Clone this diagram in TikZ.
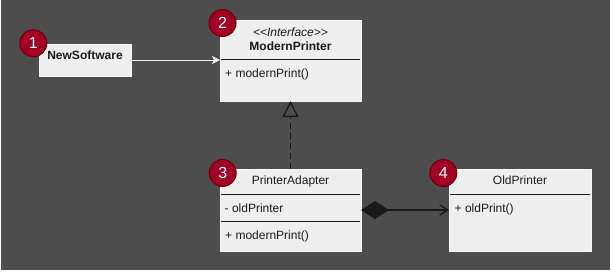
\documentclass[tikz,border=0pt]{standalone}
\usepackage{fontspec}
\setmainfont{Liberation Sans}
\usetikzlibrary{arrows.meta,calc}
\definecolor{bg}{HTML}{4D4D4D}
\definecolor{boxfill}{HTML}{EEEEEE}
\definecolor{boxline}{HTML}{F7F7F7}
\definecolor{ink}{HTML}{1A1A1A}
\definecolor{badgefill}{HTML}{A20025}
\definecolor{badgeline}{HTML}{6F0000}
\definecolor{lightline}{HTML}{F0F0F0}
\begin{document}
\begin{tikzpicture}[x=1pt,y=-1pt,
  umlbox/.style={draw=boxline, fill=boxfill, line width=1pt, inner sep=0pt, outer sep=0pt, anchor=north west},
  divider/.style={draw=ink, line width=1pt},
  lbl/.style={text=ink, inner sep=0pt, font=\fontsize{12pt}{14pt}\selectfont},
  badge/.style={circle, fill=badgefill, draw=badgeline, line width=1pt, minimum size=27pt, inner sep=0pt, text=white, font=\fontsize{16pt}{18pt}\selectfont},
  assoc/.style={draw=lightline, line width=1pt, -{Stealth[length=8pt,width=8pt,inset=2pt]}},
  realize/.style={draw=ink, line width=1.6pt, dash pattern=on 6pt off 4pt, -{Triangle[open,length=16pt,width=16pt,line width=1.4pt]}},
  compose/.style={draw=ink, line width=1.4pt, {Diamond[length=28pt,width=18pt]}-{Straight Barb[length=8pt,width=10pt,line width=1.4pt]}}
]
\useasboundingbox (0,0) rectangle (611,271);
\fill[white] (0,0) rectangle (611,271);
\fill[bg] (1,0) rectangle (610,270);

% boxes
\node[umlbox, minimum width=92pt, minimum height=32pt] (ns) at (39,44) {};
\node[umlbox, minimum width=141pt, minimum height=81pt] (mp) at (220,20) {};
\node[umlbox, minimum width=141pt, minimum height=82pt] (pa) at (220,169) {};
\node[umlbox, minimum width=142pt, minimum height=82pt] (op) at (449,169) {};

% dividers
\draw[divider] ($(mp.north west)+(1,39.5)$) -- ($(mp.north east)+(-1,39.5)$);
\draw[divider] ($(pa.north west)+(1,25)$) -- ($(pa.north east)+(-1,25)$);
\draw[divider] ($(pa.north west)+(1,52.5)$) -- ($(pa.north east)+(-1,52.5)$);
\draw[divider] ($(op.north west)+(1,25)$) -- ($(op.north east)+(-1,25)$);

% texts
\node[lbl, anchor=base, font=\fontsize{12pt}{14pt}\selectfont\bfseries] (nst) at (85,59.3) {NewSoftware};
\node[lbl, anchor=base, font=\fontsize{12pt}{14pt}\selectfont\itshape] (mps) at (290.5,36) {<{}<Interface>{}>};
\node[lbl, anchor=base, font=\fontsize{12pt}{14pt}\selectfont\bfseries] (mpt) at (290.5,50) {ModernPrinter};
\node[lbl, anchor=base west] (mpm) at (225,77) {+ modernPrint()};
\node[lbl, anchor=base] (pat) at (290.5,184.6) {PrinterAdapter};
\node[lbl, anchor=base west] (paa) at (224.5,212) {- oldPrinter};
\node[lbl, anchor=base west] (pam) at (225,239.5) {+ modernPrint()};
\node[lbl, anchor=base] (opt) at (520,184.6) {OldPrinter};
\node[lbl, anchor=base west] (opm) at (454.5,212) {+ oldPrint()};

% connectors
\draw[assoc] (ns.east) -- (ns.east -| mp.west);
\draw[realize] (pa.north) -- (mp.south);
\draw[compose] (pa.east) -- (op.west);

% badges
\node[badge] (b1) at (33.3,43.3) {1};
\node[badge] (b2) at (222.5,23) {2};
\node[badge] (b3) at (222.7,173) {3};
\node[badge] (b4) at (443.3,173) {4};
\end{tikzpicture}
\end{document}
